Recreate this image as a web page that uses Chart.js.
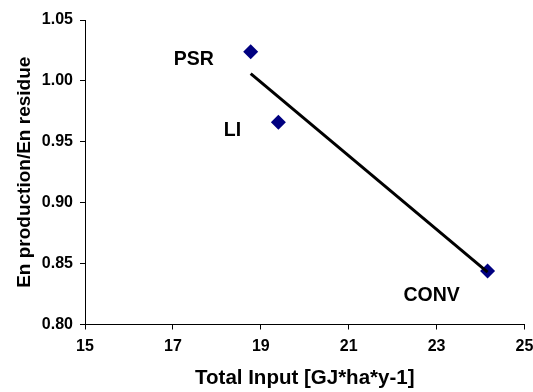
<!DOCTYPE html>
<html>
<head>
<meta charset="utf-8">
<script src="https://cdn.jsdelivr.net/npm/chart.js@4/dist/chart.umd.min.js"></script>
<style>
  html, body { margin: 0; padding: 0; background: #fff; }
  #wrap { width: 533px; height: 392px; }
</style>
</head>
<body>
<div id="wrap"><canvas id="chart" width="533" height="392"></canvas></div>
<script>
// systems and their values
const systems = ['PSR', 'LI', 'CONV'];
const totalInput = [18.77, 19.40, 24.16];
const enRatio = [1.024, 0.966, 0.844];

// linear trend line end points
const trendX = [18.77, 24.16];
const trendY = [1.006, 0.843];

const xTicks = [15, 17, 19, 21, 23, 25];
const yTicks = [0.80, 0.85, 0.90, 0.95, 1.00, 1.05];

// label offsets (px) from each point
const labelOffsets = [[-57, 8], [-46, 8], [-56, 25]];

const FONT = "'Liberation Sans', Arial, sans-serif";

const pointLabels = {
  id: 'pointLabels',
  afterDatasetsDraw(chart) {
    const { ctx } = chart;
    const meta = chart.getDatasetMeta(1);
    ctx.save();
    ctx.font = `bold 19.5px ${FONT}`;
    ctx.fillStyle = '#000';
    ctx.textAlign = 'center';
    ctx.textBaseline = 'middle';
    meta.data.forEach((pt, i) => {
      ctx.fillText(systems[i], pt.x + labelOffsets[i][0], pt.y + labelOffsets[i][1]);
    });
    ctx.restore();
  },
};

const ctx = document.getElementById('chart').getContext('2d');
new Chart(ctx, {
  type: 'scatter',
  data: {
    datasets: [
      {
        label: 'trend',
        data: trendX.map((x, i) => ({ x, y: trendY[i] })),
        showLine: true,
        borderColor: '#000',
        borderWidth: 3,
        pointRadius: 0,
      },
      {
        label: 'systems',
        data: totalInput.map((x, i) => ({ x, y: enRatio[i] })),
        pointStyle: 'rectRot',
        pointRadius: 7.5,
        backgroundColor: '#000080',
        borderColor: '#000080',
        borderWidth: 0,
      },
    ],
  },
  options: {
    responsive: false,
    animation: false,
    layout: { padding: { top: 20, right: 1, left: 0, bottom: 0 } },
    plugins: { legend: { display: false }, tooltip: { enabled: false } },
    scales: {
      x: {
        type: 'linear',
        min: 15,
        max: 25,
        afterBuildTicks: (axis) => { axis.ticks = xTicks.map((v) => ({ value: v })); },
        afterFit: (axis) => {
          axis.height = 67.5;
          axis.paddingLeft = 0;
          axis.paddingRight = 8.5;
        },
        ticks: {
          color: '#000',
          font: { family: FONT, size: 16, weight: 'bold' },
          padding: 7,
          maxRotation: 0,
        },
        grid: { drawOnChartArea: false, tickLength: 5, color: '#000' },
        border: { color: '#000', width: 1 },
        title: {
          display: true,
          text: 'Total Input [GJ*ha*y-1]',
          color: '#000',
          font: { family: FONT, size: 20.5, weight: 'bold' },
          padding: { top: 0, bottom: 1 },
        },
      },
      y: {
        type: 'linear',
        min: 0.8,
        max: 1.05,
        afterBuildTicks: (axis) => { axis.ticks = yTicks.map((v) => ({ value: v })); },
        afterFit: (axis) => { axis.width = 85; },
        ticks: {
          color: '#000',
          font: { family: FONT, size: 16, weight: 'bold' },
          padding: 7,
          callback: (v) => Number(v).toFixed(2),
        },
        grid: { drawOnChartArea: false, tickLength: 5, color: '#000' },
        border: { color: '#000', width: 1 },
        title: {
          display: true,
          text: 'En production/En residue',
          color: '#000',
          font: { family: FONT, size: 19, weight: 'bold' },
          padding: { top: 13, bottom: 0 },
        },
      },
    },
  },
  plugins: [pointLabels],
});
</script>
</body>
</html>
